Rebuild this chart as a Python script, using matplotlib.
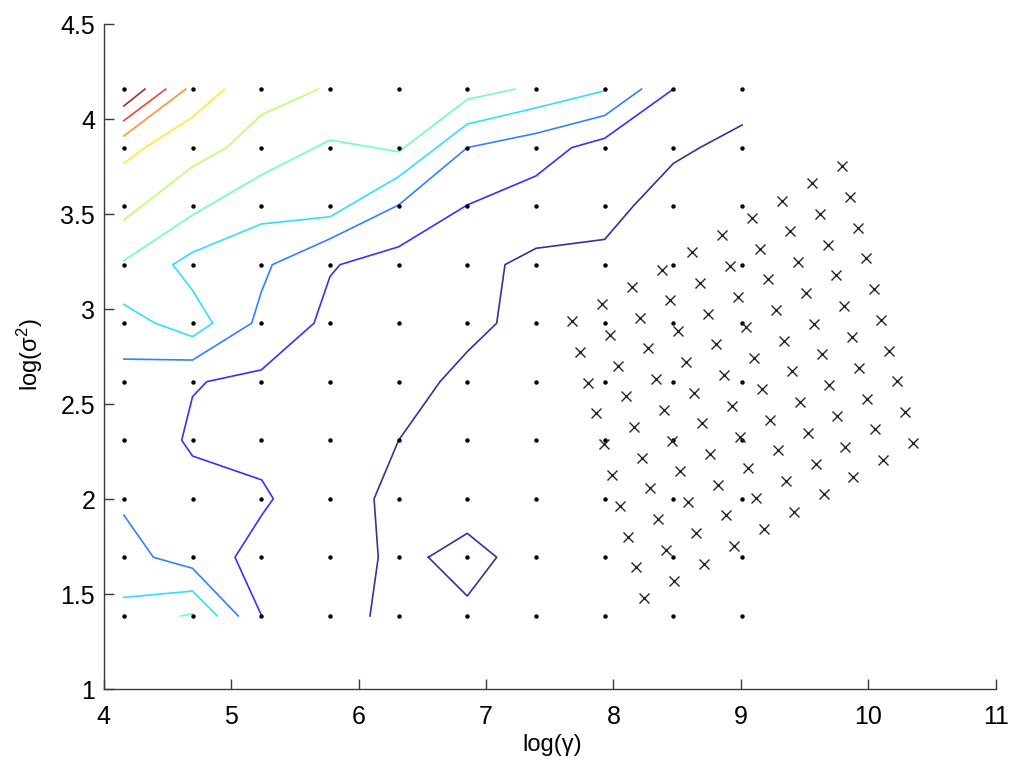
import numpy as np
import matplotlib
matplotlib.use('Agg')
import matplotlib.pyplot as plt

plt.rcParams['font.family'] = ['Liberation Sans', 'DejaVu Sans']
plt.rcParams['mathtext.fontset'] = 'custom'
plt.rcParams['mathtext.rm'] = 'Liberation Sans'
plt.rcParams['mathtext.it'] = 'Liberation Sans:italic'

# grid of evaluated (log gamma, log sigma^2) pairs
gamma_grid = [4.159, 4.698, 5.237, 5.776, 6.315, 6.853, 7.392, 7.931, 8.470, 9.009]
sigma_grid = [1.386, 1.695, 2.003, 2.311, 2.619, 2.927, 3.235, 3.543, 3.851, 4.159]

# contour lines, level 0 (lowest) .. 9 (highest)
lvl0_a_x = [6.09, 6.155, 6.122, 6.315, 6.639, 6.853, 7.084, 7.149, 7.392, 7.931, 8.155, 8.470, 8.678, 9.009]
lvl0_a_y = [1.386, 1.695, 2.003, 2.311, 2.619, 2.777, 2.927, 3.235, 3.321, 3.368, 3.543, 3.768, 3.851, 3.970]
lvl0_b_x = [6.548, 6.853, 7.084, 6.853, 6.548]
lvl0_b_y = [1.695, 1.821, 1.695, 1.491, 1.695]

lvl1_x = [5.241, 5.031, 5.241, 5.332, 5.241, 4.698, 4.613, 4.698, 4.809, 5.237, 5.651,
          5.776, 5.855, 6.315, 6.853, 7.392, 7.672, 7.931, 8.470]
lvl1_y = [1.386, 1.695, 1.917, 2.003, 2.102, 2.228, 2.311, 2.540, 2.619, 2.681, 2.927,
          3.172, 3.235, 3.329, 3.549, 3.702, 3.851, 3.900, 4.159]

lvl2_a_x = [4.159, 4.698, 5.162, 5.237, 5.324, 5.776, 6.315, 6.853, 7.392, 7.931, 8.220]
lvl2_a_y = [2.738, 2.733, 2.927, 3.090, 3.235, 3.371, 3.549, 3.851, 3.926, 4.020, 4.159]
lvl2_b_x = [4.159, 4.391, 4.698, 5.057]
lvl2_b_y = [1.917, 1.695, 1.637, 1.386]

lvl3_a_x = [4.159, 4.404, 4.698, 4.856, 4.698, 4.543, 4.698, 5.237, 5.776, 6.315, 6.853, 7.392, 7.931]
lvl3_a_y = [3.026, 2.927, 2.856, 2.927, 3.100, 3.235, 3.300, 3.449, 3.487, 3.698, 3.975, 4.060, 4.150]
lvl3_b_x = [4.159, 4.698, 4.893]
lvl3_b_y = [1.484, 1.517, 1.386]

lvl4_a_x = [4.159, 4.698, 5.237, 5.776, 6.315, 6.853, 7.227]
lvl4_a_y = [3.256, 3.496, 3.707, 3.891, 3.829, 4.105, 4.159]
lvl4_b_x = [4.605, 4.698]
lvl4_b_y = [1.386, 1.398]

lvl5_x = [4.159, 4.698, 4.966, 5.237, 5.685]
lvl5_y = [3.470, 3.751, 3.851, 4.023, 4.159]
lvl6_x = [4.159, 4.325, 4.698, 4.950]
lvl6_y = [3.768, 3.851, 4.011, 4.159]
lvl7_x = [4.159, 4.645]
lvl7_y = [3.912, 4.159]
lvl8_x = [4.159, 4.488]
lvl8_y = [3.993, 4.159]
lvl9_x = [4.159, 4.325]
lvl9_y = [4.070, 4.159]

# crosses: rotated 10x10 lattice of candidate points (rows as read)
cross_x = [
    [9.790, 9.555, 9.320, 9.086, 8.851, 8.616, 8.381, 8.146, 7.912, 7.677],
    [9.852, 9.617, 9.382, 9.148, 8.913, 8.678, 8.443, 8.208, 7.974, 7.739],
    [9.915, 9.680, 9.445, 9.211, 8.976, 8.741, 8.506, 8.271, 8.037, 7.802],
    [9.977, 9.742, 9.507, 9.273, 9.038, 8.803, 8.568, 8.333, 8.099, 7.864],
    [10.040, 9.805, 9.570, 9.336, 9.101, 8.866, 8.631, 8.396, 8.162, 7.927],
    [10.102, 9.867, 9.632, 9.398, 9.163, 8.928, 8.693, 8.458, 8.224, 7.989],
    [10.164, 9.929, 9.694, 9.460, 9.225, 8.990, 8.755, 8.520, 8.286, 8.051],
    [10.227, 9.992, 9.757, 9.523, 9.288, 9.053, 8.818, 8.583, 8.349, 8.114],
    [10.289, 10.054, 9.819, 9.585, 9.350, 9.115, 8.880, 8.645, 8.411, 8.176],
    [10.352, 10.117, 9.882, 9.648, 9.413, 9.178, 8.943, 8.708, 8.474, 8.239],
]
cross_y = [
    [3.754, 3.663, 3.572, 3.482, 3.391, 3.300, 3.209, 3.118, 3.028, 2.937],
    [3.592, 3.501, 3.410, 3.320, 3.229, 3.138, 3.047, 2.956, 2.866, 2.775],
    [3.430, 3.339, 3.248, 3.158, 3.067, 2.976, 2.885, 2.794, 2.704, 2.613],
    [3.269, 3.178, 3.087, 2.997, 2.906, 2.815, 2.724, 2.633, 2.543, 2.452],
    [3.107, 3.016, 2.925, 2.835, 2.744, 2.653, 2.562, 2.471, 2.381, 2.290],
    [2.945, 2.854, 2.763, 2.673, 2.582, 2.491, 2.400, 2.309, 2.219, 2.128],
    [2.783, 2.692, 2.601, 2.511, 2.420, 2.329, 2.238, 2.147, 2.057, 1.966],
    [2.621, 2.530, 2.439, 2.349, 2.258, 2.167, 2.076, 1.985, 1.895, 1.804],
    [2.460, 2.369, 2.278, 2.188, 2.097, 2.006, 1.915, 1.824, 1.734, 1.643],
    [2.298, 2.207, 2.116, 2.026, 1.935, 1.844, 1.753, 1.662, 1.572, 1.481],
]

x_ticks = [4, 5, 6, 7, 8, 9, 10, 11]
y_ticks = [1, 1.5, 2, 2.5, 3, 3.5, 4, 4.5]
y_tick_labels = ['1', '1.5', '2', '2.5', '3', '3.5', '4', '4.5']

segments = [
    (0, lvl0_a_x, lvl0_a_y), (0, lvl0_b_x, lvl0_b_y),
    (1, lvl1_x, lvl1_y),
    (2, lvl2_a_x, lvl2_a_y), (2, lvl2_b_x, lvl2_b_y),
    (3, lvl3_a_x, lvl3_a_y), (3, lvl3_b_x, lvl3_b_y),
    (4, lvl4_a_x, lvl4_a_y), (4, lvl4_b_x, lvl4_b_y),
    (5, lvl5_x, lvl5_y), (6, lvl6_x, lvl6_y), (7, lvl7_x, lvl7_y),
    (8, lvl8_x, lvl8_y), (9, lvl9_x, lvl9_y),
]

fig = plt.figure(figsize=(10.14, 7.69), dpi=100)
ax = fig.add_axes([0.1021, 0.1036, 0.8801, 0.8648])

# thin, slightly washed-out jet colours like the original rendering
for lvl, xs, ys in segments:
    ax.plot(xs, ys, '-', color=plt.cm.jet(lvl / 9), lw=1.2, alpha=0.8, zorder=2)

gg, ss = np.meshgrid(gamma_grid, sigma_grid)
ax.plot(gg.ravel(), ss.ravel(), 'o', color='black', ms=3.2, mec='none', zorder=3)

ax.plot(np.ravel(cross_x), np.ravel(cross_y), 'x', color='#262626', ms=7, mew=1.0,
        linestyle='none', zorder=4)

ax.set_xlim(4, 11)
ax.set_ylim(1, 4.5)
ax.set_xticks(x_ticks)
ax.set_xticklabels([str(t) for t in x_ticks])
ax.set_yticks(y_ticks)
ax.set_yticklabels(y_tick_labels)

for side in ['top', 'right']:
    ax.spines[side].set_visible(False)
for side in ['left', 'bottom']:
    ax.spines[side].set_color('#3a3a3a')
    ax.spines[side].set_linewidth(1.0)

ax.tick_params(axis='both', direction='in', length=7, width=1, colors='#3a3a3a',
               labelcolor='black', labelsize=18)
ax.tick_params(axis='x', pad=11)
ax.tick_params(axis='y', pad=6)

ax.set_xlabel('log(γ)', fontsize=17)
ax.xaxis.set_label_coords(0.5025, -0.084)
ax.xaxis.label.set_va('center')
ax.set_ylabel('log(σ$^2$)', fontsize=17)
ax.yaxis.set_label_coords(-0.0824, 0.503)
ax.yaxis.label.set_va('center')

fig.savefig('out.png', dpi=100, facecolor='white')
